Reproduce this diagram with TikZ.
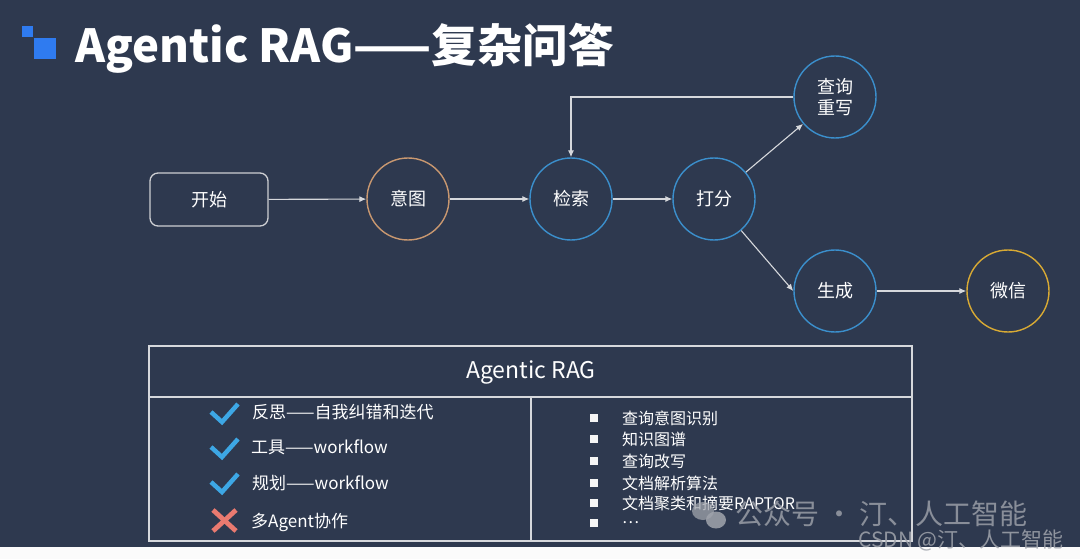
\documentclass[tikz,border=0pt]{standalone}
\usepackage{fontspec}
\setmainfont{Noto Sans CJK SC}
\usetikzlibrary{arrows.meta}
\definecolor{bg}{RGB}{46,57,79}
\definecolor{lineg}{RGB}{214,216,220}
\definecolor{cblue}{RGB}{59,143,204}
\definecolor{ctan}{RGB}{201,152,112}
\definecolor{cgold}{RGB}{216,170,52}
\definecolor{tblue}{RGB}{47,123,240}
\definecolor{chk}{RGB}{61,167,229}
\definecolor{crs}{RGB}{234,122,112}
\definecolor{wm}{RGB}{160,164,172}
\tikzset{
  circnode/.style={circle, draw=cblue, line width=1.4pt, minimum size=82pt, inner sep=0pt, text=white, font=\fontsize{18}{22}\selectfont},
  conn/.style={draw=lineg, line width=1.1pt, -{Latex[length=7pt,width=6pt]}},
  litem/.style={anchor=west, text=white, inner sep=0pt, font=\fontsize{17}{20}\selectfont},
  ritem/.style={anchor=west, text=white, inner sep=0pt, font=\fontsize{16}{19}\selectfont},
  chkmark/.style={draw=chk, line width=4.5pt, line cap=butt, line join=miter},
  crsmark/.style={draw=crs, line width=4.8pt},
  tline/.style={draw=lineg, line width=1.1pt},
}
\begin{document}
\begin{tikzpicture}[x=1pt,y=-1pt]
\useasboundingbox (0,0) rectangle (1080,559);
\fill[white!97!gray] (0,0) rectangle (1080,559);
\fill[bg] (0,0) rectangle (1080,547);
% title
\fill[tblue] (22,26) rectangle (33,37);
\fill[tblue] (34,38) rectangle (56,59);
\node[anchor=base west, inner sep=0pt, text=white, font=\fontsize{45.5}{52}\selectfont\bfseries] (title) at (75,63) {Agentic RAG——复杂问答};
% flow nodes
\node[draw=lineg!90!gray, line width=1.3pt, rounded corners=8pt, minimum width=118pt, minimum height=53pt, text=white, font=\fontsize{18}{22}\selectfont] (start) at (209,199.5) {开始};
\node[circnode, draw=ctan] (intent) at (408,199) {意图};
\node[circnode] (ret) at (571,199) {检索};
\node[circnode] (score) at (714,199) {打分};
\node[circnode, align=center, font=\fontsize{18}{21}\selectfont] (rewrite) at (835,97) {查询\\重写};
\node[circnode] (gen) at (835,291) {生成};
\node[circnode, draw=cgold] (wx) at (1008,291) {微信};
% connectors
\draw[conn] (start) -- (intent);
\draw[conn] (intent) -- (ret);
\draw[conn] (ret) -- (score);
\draw[conn] (score) -- (rewrite);
\draw[conn] (score) -- (gen.west);
\draw[conn] (gen) -- (wx);
\draw[conn] (rewrite.west) -| (ret.north);
% table
\draw[tline] (149,346) rectangle (912,541);
\draw[tline] (149,397) -- (912,397);
\draw[tline] (531,397) -- (531,541);
\node[text=white, font=\fontsize{23}{27}\selectfont] (thead) at (531,372) {Agentic RAG};
% left column
\draw[chkmark] (211,412) -- (222,422) -- (238,404);
\draw[chkmark] (211,447) -- (222,457) -- (238,439);
\draw[chkmark] (211,482) -- (222,492) -- (238,474);
\draw[crsmark] (213,510) -- (236,531);
\draw[crsmark] (236,510) -- (213,531);
\node[litem] (l1) at (252,412) {反思——自我纠错和迭代};
\node[litem] (l2) at (251,447) {工具——workflow};
\node[litem] (l3) at (252,483) {规划——workflow};
\node[litem] (l4) at (251,522) {多Agent协作};
% right column
\foreach \yy in {418,439,461,483,503,523} {\fill[white!92!gray] (590,\yy-4) rectangle (598,\yy+4);}
\node[ritem] (r1) at (622,418) {查询意图识别};
\node[ritem] (r2) at (622,439) {知识图谱};
\node[ritem] (r3) at (622,461) {查询改写};
\node[ritem] (r4) at (622,483) {文档解析算法};
\node[ritem] (r5) at (622,503) {文档聚类和摘要RAPTOR};
\node[ritem] (r6) at (622,523) {…};
% watermark
\fill[wm, opacity=0.75] (703,511) ellipse (11pt and 9pt);
\fill[wm, opacity=0.85] (716,520) ellipse (10pt and 8.5pt);
\node[anchor=west, inner sep=0pt, text=wm, opacity=0.8, font=\fontsize{28}{32}\selectfont] (wm1) at (735,514) {公众号 · 汀、人工智能};
\node[anchor=west, inner sep=0pt, text=wm, opacity=0.85, font=\fontsize{21}{24}\selectfont] (wm2) at (858,540) {CSDN @汀、人工智能};
\end{tikzpicture}
\end{document}
